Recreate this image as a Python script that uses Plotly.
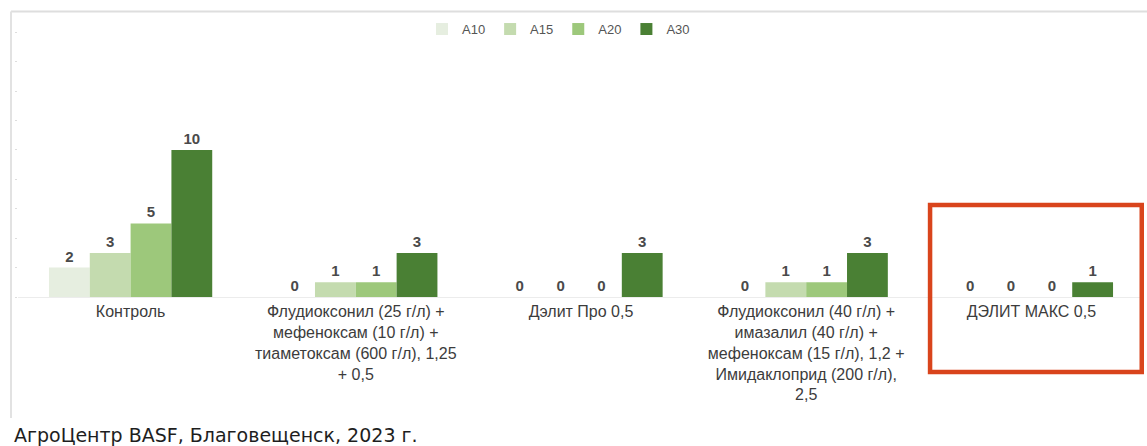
import plotly.graph_objects as go

categories = [
    "Контроль",
    "Флудиоксонил (25 г/л) +<br>мефеноксам (10 г/л) +<br>тиаметоксам (600 г/л), 1,25<br>+ 0,5",
    "Дэлит Про 0,5",
    "Флудиоксонил (40 г/л) +<br>имазалил (40 г/л) +<br>мефеноксам (15 г/л), 1,2 +<br>Имидаклоприд (200 г/л),<br>2,5",
    "ДЭЛИТ МАКС 0,5",
]
series_names = ["A10", "A15", "A20", "A30"]
a10 = [2, 0, 0, 0, 0]
a15 = [3, 1, 0, 1, 0]
a20 = [5, 1, 0, 1, 0]
a30 = [10, 3, 3, 3, 1]
colors = ["#e6eee0", "#c4dbaf", "#9dc87b", "#4a8034"]
footer = "АгроЦентр BASF, Благовещенск, 2023 г."

fig = go.Figure()
for name, vals, col in zip(series_names, [a10, a15, a20, a30], colors):
    fig.add_trace(go.Bar(
        name=name, x=categories, y=vals, marker=dict(color=col, line=dict(width=0)),
        text=[str(v) for v in vals], textposition="outside", cliponaxis=False,
        textfont=dict(family="Liberation Sans", size=15, color="#4a4a4a", weight="bold"),
    ))

W, H = 1147, 446
ml, mr, mt, mb = 18, 3, 25, 149
fig.update_layout(
    width=W, height=H,
    margin=dict(l=ml, r=mr, t=mt, b=mb),
    barmode="group", bargap=0.275, bargroupgap=0,
    plot_bgcolor="white", paper_bgcolor="white",
    font=dict(family="Liberation Sans", size=16, color="#3c3c3c"),
    legend=dict(orientation="h", x=0.48, y=0.985, xanchor="center", yanchor="middle",
                font=dict(size=13, color="#555555"), itemwidth=30, tracegroupgap=0,
                bgcolor="rgba(0,0,0,0)"),
    xaxis=dict(showgrid=False, showline=True, linecolor="#ececec", linewidth=1,
               tickfont=dict(size=16, color="#3c3c3c"), ticks=""),
    yaxis=dict(range=[0, 18.5], showgrid=False, zeroline=False, showticklabels=False,
               ticks="outside", ticklen=2, tickcolor="#dddddd", dtick=2, tick0=0),
)

pw = W - ml - mr
ph = H - mt - mb
def px_x(v):
    return (v - ml) / pw
def px_y(v):
    return (H - mb - v) / ph

# outer light frame
fig.add_shape(type="line", xref="paper", yref="paper",
              x0=px_x(11), x1=px_x(1150), y0=px_y(11.5), y1=px_y(11.5),
              line=dict(color="#dedede", width=2))
fig.add_shape(type="line", xref="paper", yref="paper",
              x0=px_x(11), x1=px_x(11), y0=px_y(11.5), y1=px_y(418),
              line=dict(color="#e2e2e2", width=2))

# red highlight box
fig.add_shape(type="rect", xref="x", yref="paper",
              x0=3.55, x1=4.49, y0=px_y(205), y1=px_y(372),
              line=dict(color="#d9441c", width=4.5), fillcolor="rgba(0,0,0,0)")

fig.add_annotation(text=footer, xref="paper", yref="paper",
                   x=px_x(12), y=px_y(435), xanchor="left", yanchor="middle",
                   showarrow=False,
                   font=dict(family="DejaVu Sans", size=19, color="#1e1e1e"))

fig.write_html("out.html", config={"displayModeBar": False},
               post_script="document.body.style.margin='0px';document.body.style.overflow='hidden';")
